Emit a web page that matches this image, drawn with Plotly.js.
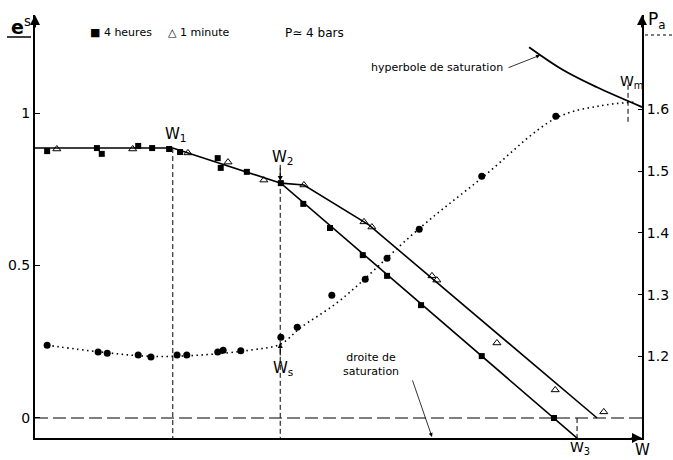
<!DOCTYPE html>
<html>
<head>
<meta charset="utf-8">
<script src="https://cdn.plot.ly/plotly-3.0.1.min.js"></script>
<style>
  html, body { margin: 0; padding: 0; background: #fff; }
  #graph { width: 673px; height: 460px; }
</style>
</head>
<body>
<div id="graph"></div>
<script>
// Teneur en eau W (unités arbitraires), indice des vides e^s, pression d'air Pa

// Points mesurés — 4 heures (carrés pleins)
const W_heures = [2.0, 10.2, 11.0, 17.0, 19.3, 22.1, 23.9, 30.1, 30.6, 34.9, 40.5, 44.2, 48.6, 54.0, 58.0, 63.6, 73.6, 85.5];
const e_heures = [0.875, 0.885, 0.866, 0.892, 0.885, 0.882, 0.872, 0.852, 0.820, 0.807, 0.770, 0.702, 0.623, 0.534, 0.466, 0.370, 0.203, 0.0];

// Points mesurés — 1 minute (triangles)
const W_minute = [3.6, 16.1, 25.2, 31.8, 37.7, 44.3, 54.2, 55.5, 65.4, 66.2, 76.1, 85.7, 93.7];
const e_minute = [0.882, 0.882, 0.869, 0.839, 0.780, 0.764, 0.643, 0.626, 0.466, 0.452, 0.246, 0.092, 0.020];

// Pression Pa (cercles pleins, axe de droite)
const W_Pa = [2.0, 10.4, 11.9, 17.0, 19.1, 23.4, 25.0, 30.1, 31.0, 33.9, 40.5, 43.2, 48.9, 54.4, 58.0, 63.3, 73.6, 85.8];
const Pa   = [1.218, 1.207, 1.205, 1.202, 1.199, 1.202, 1.202, 1.207, 1.210, 1.209, 1.231, 1.247, 1.299, 1.325, 1.359, 1.406, 1.492, 1.589];

// Droites tracées
const W_droite4h = [0, 22.7, 40.5, 89.3];
const e_droite4h = [0.885, 0.885, 0.770, -0.066];
const W_droite1min = [40.5, 44.3, 55.0, 92.6];
const e_droite1min = [0.770, 0.764, 0.633, 0.0];

// Courbe Pa (pointillés)
const W_courbePa = [2.0, 10.8, 19.0, 27.2, 35.4, 40.5, 43.7, 50.3, 63.4, 73.6, 85.8, 93.1, 98.8];
const Pa_courbe  = [1.218, 1.207, 1.200, 1.202, 1.210, 1.220, 1.246, 1.291, 1.408, 1.489, 1.586, 1.606, 1.612];

// Hyperbole de saturation (axe de droite)
const W_hyperbole = [81.4, 87.0, 92.6, 100.0];
const Pa_hyperbole = [1.701, 1.664, 1.636, 1.604];

// Repères sur l'axe W
const W1 = 22.7, W2 = 40.4, W3 = 89.3, Wm = 97.7;

// Étendues des axes
const xRange = [0, 100];
const eRange = [-0.0656, 1.3213];
const PaRange = [1.0676, 1.7532];

const FONT = 'DejaVu Sans, Noto Sans, sans-serif';
const BLACK = '#000';

const traces = [
  { x: W_droite4h, y: e_droite4h, mode: 'lines', line: { color: BLACK, width: 1.6 }, hoverinfo: 'skip' },
  { x: W_droite1min, y: e_droite1min, mode: 'lines', line: { color: BLACK, width: 1.6 }, hoverinfo: 'skip' },
  { x: [xRange[0], xRange[1]], y: [0, 0], mode: 'lines', line: { color: BLACK, width: 1.2, dash: '13px,5px' }, hoverinfo: 'skip' },
  { x: W_courbePa, y: Pa_courbe, yaxis: 'y2', mode: 'lines', line: { color: BLACK, width: 1.6, dash: '1.5px,3.5px', shape: 'spline', smoothing: 1 }, hoverinfo: 'skip' },
  { x: W_hyperbole, y: Pa_hyperbole, yaxis: 'y2', mode: 'lines', line: { color: BLACK, width: 1.8, shape: 'spline' }, hoverinfo: 'skip' },
  { x: W_heures, y: e_heures, mode: 'markers', marker: { symbol: 'square', size: 6, color: BLACK } },
  { x: W_minute, y: e_minute, mode: 'markers', marker: { symbol: 'triangle-up-open', size: 7, color: BLACK, line: { width: 1 } } },
  { x: W_Pa, y: Pa, yaxis: 'y2', mode: 'markers', marker: { symbol: 'circle', size: 7, color: BLACK } }
];

// position helpers in paper units (plot area 607 x 423 px, origin at 35, 438)
const px = v => (v - 35) / 607;
const py = v => (438 - v) / 423;

const txt = (text, x, y, size, extra) => Object.assign({
  text: text, x: x, y: y, xref: 'paper', yref: 'paper', showarrow: false,
  font: { family: FONT, size: size, color: BLACK }, xanchor: 'center', yanchor: 'middle'
}, extra || {});

const wLabel = (text, x, y, size) => ({
  text: text, x: x, y: y, xref: 'x', yref: 'paper', showarrow: false,
  xanchor: 'center', yanchor: 'middle', xshift: 3,
  font: { family: FONT, size: size, color: BLACK }
});

const arrow = (x, y, xref, yref, ax, ay, w) => ({
  text: '', x: x, y: y, xref: xref, yref: yref, ax: ax, ay: ay,
  showarrow: true, arrowhead: 2, arrowsize: 1, arrowwidth: w || 1, arrowcolor: BLACK
});

const annotations = [
  // axis arrow heads
  arrow(0, 1, 'paper', 'paper', 0, 14, 2),
  arrow(1, 1, 'paper', 'paper', 0, 14, 2),
  arrow(1, 0, 'paper', 'paper', -12, 0, 2),
  // axis titles
  txt('<b>e</b><sup>s</sup>', px(21), py(26), 19),
  txt('P<sub>a</sub>', px(657), py(20), 17),
  txt('W', px(642), py(450), 15),
  // legend text
  txt('■ 4 heures', px(88), py(33), 11, { xanchor: 'left' }),
  txt('△ 1 minute', px(166), py(33), 11, { xanchor: 'left' }),
  txt('P≃ 4 bars', px(283), py(33), 12, { xanchor: 'left' }),
  // W markers
  wLabel('W<sub>1</sub>', W1, py(134), 15),
  wLabel('W<sub>2</sub>', W2, py(157), 15),
  wLabel('W<sub>s</sub>', W2, py(368), 15),
  wLabel('W<sub>3</sub>', W3, py(448), 14),
  wLabel('W<sub>m</sub>', Wm, py(82), 14),
  arrow(W2, 0.777, 'x', 'y', 0, -14, 1),
  arrow(W2, 1.2216, 'x', 'y2', 0, 14, 1),
  // labels with leaders
  txt('hyperbole de saturation', px(505), py(68), 11, { xanchor: 'right' }),
  arrow(83.2, 1.688, 'x', 'y2', -33, 13, 0.8),
  txt('droite de<br>saturation', px(371), py(364), 11),
  arrow(65.4, -0.062, 'x', 'y', -20, -58, 0.8)
];

const shapes = [
  { type: 'line', xref: 'x', yref: 'y', x0: W1, x1: W1, y0: 0.885, y1: eRange[0], line: { color: BLACK, width: 1, dash: '5px,3px' } },
  { type: 'line', xref: 'x', yref: 'y', x0: W2, x1: W2, y0: 0.83, y1: eRange[0], line: { color: BLACK, width: 1, dash: '5px,3px' } },
  { type: 'line', xref: 'x', yref: 'y', x0: W3, x1: W3, y0: 0, y1: eRange[0], line: { color: BLACK, width: 1, dash: '5px,3px' } },
  { type: 'line', xref: 'x', yref: 'y2', x0: Wm, x1: Wm, y0: 1.640, y1: 1.580, line: { color: BLACK, width: 1, dash: '5px,3px' } },
  // underline of e^s and dotted underline of Pa
  { type: 'line', xref: 'paper', yref: 'paper', x0: px(7), x1: px(31), y0: py(37), y1: py(37), line: { color: BLACK, width: 1.5 } },
  { type: 'line', xref: 'paper', yref: 'paper', x0: px(645), x1: px(673), y0: py(35), y1: py(35), line: { color: BLACK, width: 1, dash: 'dot' } }
];

const layout = {
  width: 673, height: 460,
  margin: { l: 35, r: 31, t: 15, b: 22, pad: 0 },
  paper_bgcolor: '#fff', plot_bgcolor: '#fff',
  showlegend: false,
  font: { family: FONT, color: BLACK },
  xaxis: {
    range: xRange, showgrid: false, zeroline: false, showline: true, linecolor: BLACK, linewidth: 2,
    showticklabels: false, ticks: ''
  },
  yaxis: {
    range: eRange, showgrid: false, zeroline: false, showline: true, linecolor: BLACK, linewidth: 2,
    tickvals: [0, 0.5, 1], ticktext: ['0', '0.5', '1'], ticks: 'inside', ticklen: 5, tickcolor: BLACK,
    tickfont: { family: FONT, size: 14, color: BLACK }
  },
  yaxis2: {
    range: PaRange, overlaying: 'y', side: 'right', showgrid: false, zeroline: false,
    showline: true, linecolor: BLACK, linewidth: 2,
    tickvals: [1.2, 1.3, 1.4, 1.5, 1.6], ticktext: ['1.2', '1.3', '1.4', '1.5', '1.6'],
    ticks: 'inside', ticklen: 4, tickcolor: BLACK,
    tickfont: { family: FONT, size: 14, color: BLACK }
  },
  annotations: annotations,
  shapes: shapes
};

Plotly.newPlot('graph', traces, layout, { displayModeBar: false, staticPlot: true });
</script>
</body>
</html>
